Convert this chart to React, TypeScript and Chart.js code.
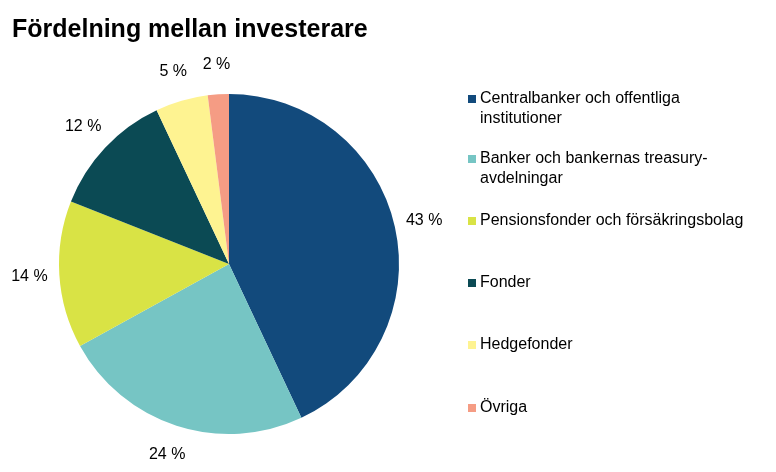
import React, {useEffect, useRef} from "react";
import Chart from 'chart.js/auto';

const labels = ["Centralbanker och offentliga institutioner", "Banker och bankernas treasury-avdelningar", "Pensionsfonder och försäkringsbolag", "Fonder", "Hedgefonder", "Övriga"]
const legendLines = [["Centralbanker och offentliga", "institutioner"], ["Banker och bankernas treasury-", "avdelningar"], ["Pensionsfonder och försäkringsbolag"], ["Fonder"], ["Hedgefonder"], ["Övriga"]]
const values = [43, 24, 14, 12, 5, 2]
const colors = ['#124A7C', '#76C5C4', '#D9E345', '#0B4A54', '#FEF391', '#F59C84']
const legendTops = [88, 148, 210, 272, 334, 397]

const App = () => {
    const ref = useRef<HTMLCanvasElement>(null)
    useEffect(() => {
        document.body.style.margin = '0'
        const ctx = ref.current!.getContext('2d')!
        const outsideLabels = {
            id: 'outsideLabels',
            afterDraw(chart: any) {
                const meta = chart.getDatasetMeta(0)
                const c = chart.ctx
                c.save()
                c.font = '16px "Liberation Sans", Arial, sans-serif'
                c.fillStyle = '#000'
                c.textAlign = 'center'
                c.textBaseline = 'middle'
                meta.data.forEach((arc: any, i: number) => {
                    const a = (arc.startAngle + arc.endAngle) / 2
                    const r = arc.outerRadius + 30
                    c.fillText(values[i] + ' %', arc.x + Math.cos(a) * r, arc.y + Math.sin(a) * r)
                })
                c.restore()
            }
        }
        const chart = new Chart(ctx, {
            type: 'pie',
            data: {labels, datasets: [{data: values, backgroundColor: colors, borderWidth: 0}]},
            options: {
                animation: false,
                responsive: false,
                layout: {padding: {top: 94, bottom: 38, left: 59, right: 377}},
                plugins: {legend: {display: false}, tooltip: {enabled: false}}
            },
            plugins: [outsideLabels]
        })
        return () => chart.destroy()
    }, [])
    return (
        <div style={{position: 'relative', width: 776, height: 472, background: '#fff', fontFamily: '"Liberation Sans", Arial, sans-serif'}}>
            <canvas ref={ref} width={776} height={472} style={{position: 'absolute', left: 0, top: 0}}></canvas>
            <div style={{position: 'absolute', left: 12, top: 14, fontSize: 25, fontWeight: 'bold'}}>Fördelning mellan investerare</div>
            {legendLines.map((lines, i) => (
                <div key={i} style={{position: 'absolute', left: 468, top: legendTops[i], display: 'flex', fontSize: 16, lineHeight: '20px'}}>
                    <div style={{width: 8, height: 8, background: colors[i], marginTop: 7, marginRight: 4}}></div>
                    <div>{lines.map((l, j) => <div key={j}>{l}</div>)}</div>
                </div>
            ))}
        </div>
    )
}

export default App
